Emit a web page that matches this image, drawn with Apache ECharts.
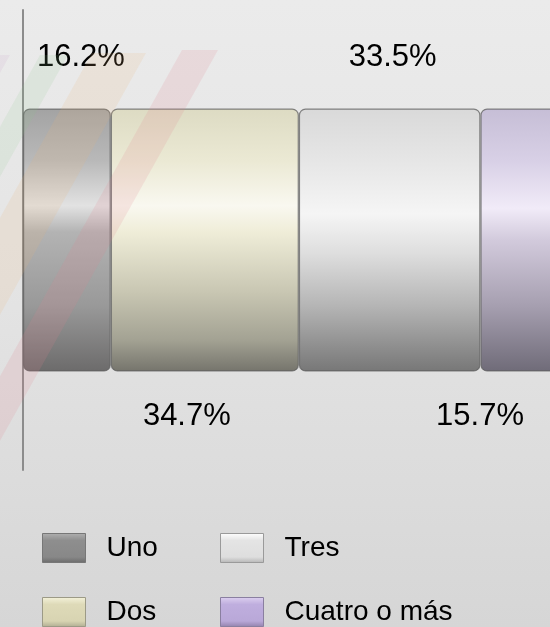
<!DOCTYPE html>
<html>
<head>
<meta charset="utf-8">
<script src="https://cdn.jsdelivr.net/npm/echarts@6/dist/echarts.min.js"></script>
<style>
html,body{margin:0;padding:0;width:550px;height:627px;overflow:hidden;}
body{background:linear-gradient(180deg,#ebebeb 0%,#e4e4e4 45%,#d6d6d6 100%);}
#chart{width:550px;height:627px;}
</style>
</head>
<body>
<div id="chart"></div>
<script>
// ---- data ----
const categories = ['Hogares'];
const seriesNames = ['Uno', 'Dos', 'Tres', 'Cuatro o más'];
const seriesValues = [16.2, 34.7, 33.5, 15.7];
const labelTexts = ['16.2%', '34.7%', '33.5%', '15.7%'];

// ---- styles ----
const FONT = "'Liberation Sans', Arial, Helvetica, sans-serif";
function vgrad(stops) {
  return {type: 'linear', x: 0, y: 0, x2: 0, y2: 1,
    colorStops: stops.map(s => ({offset: s[0], color: s[1]}))};
}
const barGradients = [
  vgrad([[0,'#a3a3a3'],[0.2,'#b9b9b9'],[0.37,'#e2e2e2'],[0.47,'#b3b3b3'],[0.75,'#999999'],[1,'#6c6b6b']]),
  vgrad([[0,'#dddbc3'],[0.2,'#ebe9d4'],[0.37,'#f9f8f0'],[0.47,'#efedd8'],[0.7,'#c8c6b2'],[0.88,'#a3a293'],[1,'#75746c']]),
  vgrad([[0,'#d9d9d9'],[0.2,'#e6e6e6'],[0.4,'#f5f5f5'],[0.55,'#dedede'],[0.75,'#b5b5b5'],[1,'#777777']]),
  vgrad([[0,'#c6bed6'],[0.2,'#d8d0e6'],[0.38,'#f1ebf8'],[0.5,'#d2cadc'],[0.75,'#a69fb0'],[1,'#6f6b78']])
];
const legendGradients = [
  vgrad([[0,'#b0b0b0'],[0.25,'#8e8e8e'],[0.8,'#888888'],[1,'#6a6a6a']]),
  vgrad([[0,'#f4f2da'],[0.25,'#dedab8'],[0.8,'#d8d4b2'],[1,'#b0ad92']]),
  vgrad([[0,'#ffffff'],[0.25,'#e4e4e4'],[0.8,'#dedede'],[1,'#b4b4b4']]),
  vgrad([[0,'#ddd0f0'],[0.25,'#bfaede'],[0.8,'#b9a8d8'],[1,'#9282ac']])
];
const legendBorders = ['#777777', '#9c9a86', '#9a9a9a', '#8a7fa0'];
// legend item placement: [left, top]
const legendPos = [[42, 533], [42, 597], [220, 533], [220, 597]];
// label placement (relative to each segment centre): [dx, dy]
const labelShift = [[14, -183], [-18, 176], [3, -183], [-43, 176]];

const series = seriesNames.map((name, i) => ({
  name: name,
  type: 'bar',
  stack: 'total',
  barWidth: 263,
  data: [seriesValues[i]],
  itemStyle: {
    color: barGradients[i],
    borderColor: 'rgba(95,95,95,0.75)',
    borderWidth: 1.2,
    borderRadius: 6
  },
  label: {
    show: true,
    position: ['50%', '50%'],
    align: 'center',
    verticalAlign: 'middle',
    offset: labelShift[i],
    formatter: () => labelTexts[i],
    color: '#000',
    fontFamily: FONT,
    fontSize: 31
  }
}));

const legends = seriesNames.map((name, i) => ({
  data: [{name: name, itemStyle: {color: legendGradients[i], borderColor: legendBorders[i], borderWidth: 1}}],
  orient: 'horizontal', left: legendPos[i][0], top: legendPos[i][1], padding: 0,
  itemWidth: 43, itemHeight: 29, icon: 'rect',
  selectedMode: false,
  textStyle: {fontFamily: FONT, fontSize: 28, color: '#000', lineHeight: 29, padding: [0, 0, 0, 16]}
}));

function stripe(x1, x2, y1, y2, slope, color) {
  const dx = (y2 - y1) * slope;
  return {
    type: 'polygon',
    silent: true,
    z: 100,
    shape: {points: [[x1, y1], [x2, y1], [x2 + dx, y2], [x1 + dx, y2]]},
    style: {fill: color}
  };
}

const chart = echarts.init(document.getElementById('chart'), null, {renderer: 'canvas'});
chart.setOption({
  backgroundColor: 'transparent',
  animation: false,
  grid: {left: 23, top: 10, width: 542, height: 460, containLabel: false, outerBoundsMode: 'none'},
  xAxis: {
    type: 'value', min: 0, max: 100, show: false
  },
  yAxis: {
    type: 'category',
    data: categories,
    axisLine: {show: true, lineStyle: {color: '#8c8c8c', width: 2}},
    axisTick: {show: false},
    axisLabel: {show: false},
    splitLine: {show: false}
  },
  legend: legends,
  graphic: [
    stripe(-2, 10, 55, 120, -0.558, 'rgba(200,150,200,0.12)'),
    stripe(40, 68, 55, 470, -0.558, 'rgba(140,200,140,0.13)'),
    stripe(92, 146, 53, 470, -0.558, 'rgba(235,180,120,0.15)'),
    stripe(182, 218, 50, 480, -0.558, 'rgba(225,130,145,0.16)')
  ],
  series: series
});
</script>
</body>
</html>
